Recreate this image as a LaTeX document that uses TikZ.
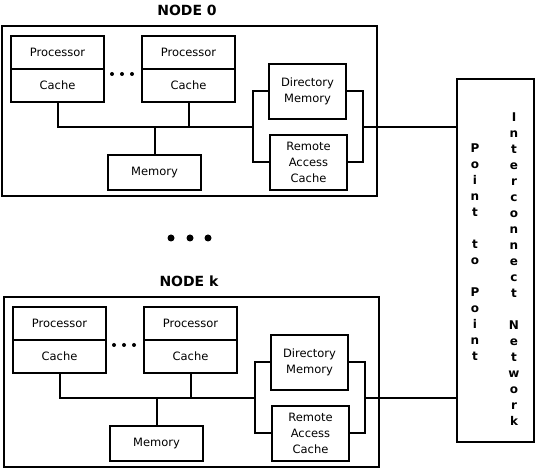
\documentclass[tikz,border=0pt]{standalone}
\usepackage{fontspec}
\setmainfont{DejaVu Sans}
\usetikzlibrary{positioning}

\begin{document}
\begin{tikzpicture}[x=1pt, y=-1pt, line width=2pt,
    box/.style={draw, minimum width=93pt, minimum height=33pt, inner sep=0pt,
                outer sep=0pt, font=\fontsize{11.5}{16}\selectfont},
    unit/.style={draw, minimum width=77pt, minimum height=55pt, inner sep=0pt,
                 align=center, font=\fontsize{11.5}{16}\selectfont},
    title/.style={font=\bfseries\fontsize{14}{16}\selectfont},
    nettext/.style={align=center, inner sep=0pt, font=\bfseries\fontsize{12}{16}\selectfont}]
  \useasboundingbox (0,0) rectangle (536,470);
  % interconnect
  \node[draw, minimum width=77pt, minimum height=363pt] (net) at (495.5,260.5) {};
  \node[nettext] (ptp) at (475,252) {P\\o\\i\\n\\t\\~\\t\\o\\~\\P\\o\\i\\n\\t};
  \node[nettext] (icn) at (514,269)
        {I\\n\\t\\e\\r\\c\\o\\n\\n\\e\\c\\t\\~\\N\\e\\t\\w\\o\\r\\k};
  % the two nodes
  \foreach \g/\ttl/\dx/\dy in {a/0/0/0, b/k/2/271} {
    \begin{scope}[shift={(\dx,\dy)}]
      \node[draw, minimum width=375pt, minimum height=170pt] (frame\g) at (189.5,111) {};
      \node[title] (title\g) at (187,10) {NODE \ttl};
      \node[box] (proc1\g) at (57.5,52.5) {Processor};
      \node[box, below=0pt of proc1\g] (cache1\g) {Cache};
      \node[box] (proc2\g) at (188.5,52.5) {Processor};
      \node[box, below=0pt of proc2\g] (cache2\g) {Cache};
      \foreach \x in {112,122,132}
        \fill (\x,74) circle (2pt);
      \node[box, minimum height=35pt] (mem\g) at (154.5,172.5) {Memory};
      \node[unit] (dir\g) at (307.5,91.5) {Directory\\Memory};
      \node[unit] (rac\g) at (308.5,162.5) {Remote\\Access\\Cache};
      \coordinate (lb\g) at (253,127);
      \coordinate (rb\g) at (363,127);
      \draw (cache1\g.south) |- (lb\g);
      \draw (cache2\g.south) -- (cache2\g.south |- lb\g);
      \draw (mem\g.north) -- (mem\g.north |- lb\g);
      \draw (dir\g.west) -| (lb\g) |- (rac\g.west);
      \draw (dir\g.east) -| (rb\g) |- (rac\g.east);
      \draw (rb\g) -- (rb\g -| net.west);
    \end{scope}
  }
  % between the nodes
  \foreach \x in {171,190,208}
    \fill (\x,238) circle (3.5pt);
\end{tikzpicture}
\end{document}
